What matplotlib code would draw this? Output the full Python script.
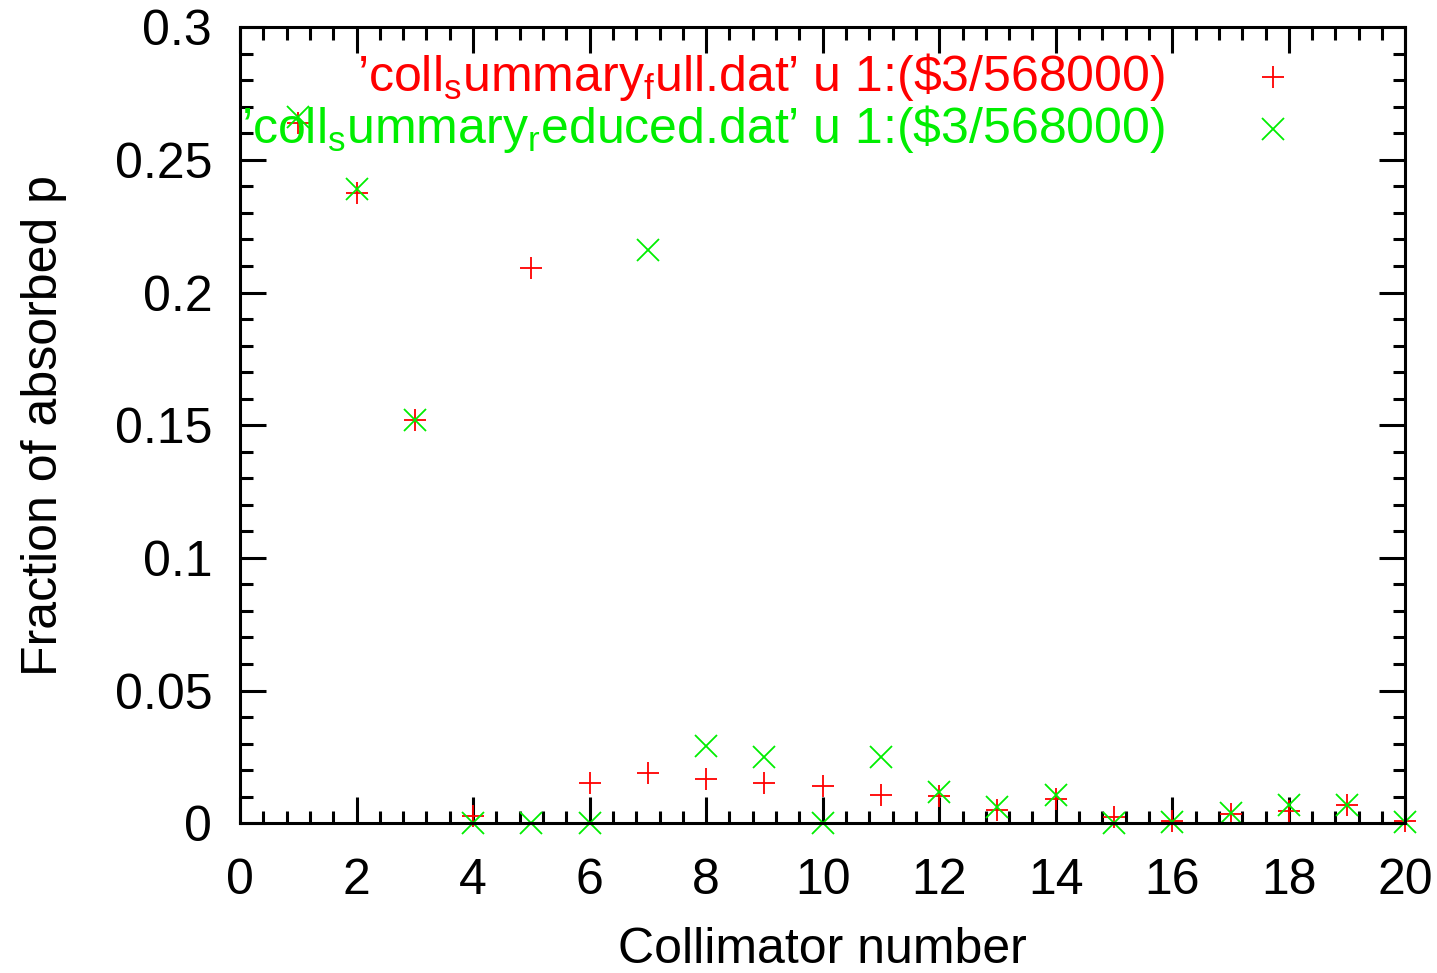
#!/usr/bin/env python3
"""Fraction of absorbed protons per collimator, full vs reduced summary."""
import matplotlib
matplotlib.use("Agg")
import matplotlib.pyplot as plt
from matplotlib.ticker import MultipleLocator

# collimator number and fraction ($3/568000) for each summary file
coll = list(range(1, 21))
full = [0.2638, 0.2374, 0.1518, 0.0026, 0.2091, 0.0150, 0.0188, 0.0166,
        0.0150, 0.0139, 0.0105, 0.0102, 0.0049, 0.0090, 0.0023, 0.0008,
        0.0034, 0.0045, 0.0070, 0.0008]
reduced = [0.2660, 0.2392, 0.1518, 0.0000, 0.0000, 0.0000, 0.2160, 0.0290,
           0.0249, 0.0000, 0.0249, 0.0117, 0.0060, 0.0105, 0.0000, 0.0005,
           0.0037, 0.0070, 0.0070, 0.0005]

yticks = [0, 0.05, 0.1, 0.15, 0.2, 0.25, 0.3]
ytick_labels = ["0", "0.05", "0.1", "0.15", "0.2", "0.25", "0.3"]
labels = [r"’coll$_\mathrm{s}$ummary$_\mathrm{f}$ull.dat’ u 1:(\$3/568000)",
          r"’coll$_\mathrm{s}$ummary$_\mathrm{r}$educed.dat’ u 1:(\$3/568000)"]
RED, GREEN = "#ff0000", "#00ee00"

plt.rcParams["font.family"] = ["Liberation Sans", "DejaVu Sans"]
plt.rcParams["mathtext.fontset"] = "custom"
plt.rcParams["mathtext.rm"] = "Liberation Sans"
plt.rcParams["mathtext.it"] = "Liberation Sans"

fig = plt.figure(figsize=(14.37, 9.73), dpi=100)
ax = fig.add_axes([0.167, 0.154, 0.811, 0.818])

ms, mew = 16, 1.3
ax.plot(coll, full, ls="none", marker="+", ms=ms, mew=mew, color=RED,
        clip_on=False)
ax.plot(coll, reduced, ls="none", marker="x", ms=ms, mew=mew, color=GREEN,
        clip_on=False)

ax.set_xlim(0, 20)
ax.set_ylim(0, 0.3)
ax.xaxis.set_major_locator(MultipleLocator(2))
ax.xaxis.set_minor_locator(MultipleLocator(0.4))
ax.set_yticks(yticks)
ax.set_yticklabels(ytick_labels)
ax.yaxis.set_minor_locator(MultipleLocator(0.01))

for s in ax.spines.values():
    s.set_linewidth(2.2)
ax.tick_params(which="both", direction="in", top=True, right=True,
               width=2.2, labelsize=36)
ax.tick_params(which="major", length=18.5)
ax.tick_params(which="minor", length=9)
ax.tick_params(axis="x", pad=25)
ax.tick_params(axis="y", pad=20)

ax.set_xlabel("Collimator number", fontsize=36, labelpad=17)
ax.set_ylabel("Fraction of absorbed p", fontsize=36, labelpad=34)

# gnuplot style key: right-aligned text, sample marker to its right
for i, (lab, col, mk) in enumerate(zip(labels, [RED, GREEN], ["+", "x"])):
    yk = 0.937 - i * 0.065
    ax.text(0.794, yk, lab, transform=ax.transAxes, ha="right",
            va="center", fontsize=36, color=col)
    ax.plot([0.886], [yk], transform=ax.transAxes, ls="none", marker=mk,
            ms=ms, mew=mew, color=col, clip_on=False)

fig.savefig("out.png", dpi=100)
